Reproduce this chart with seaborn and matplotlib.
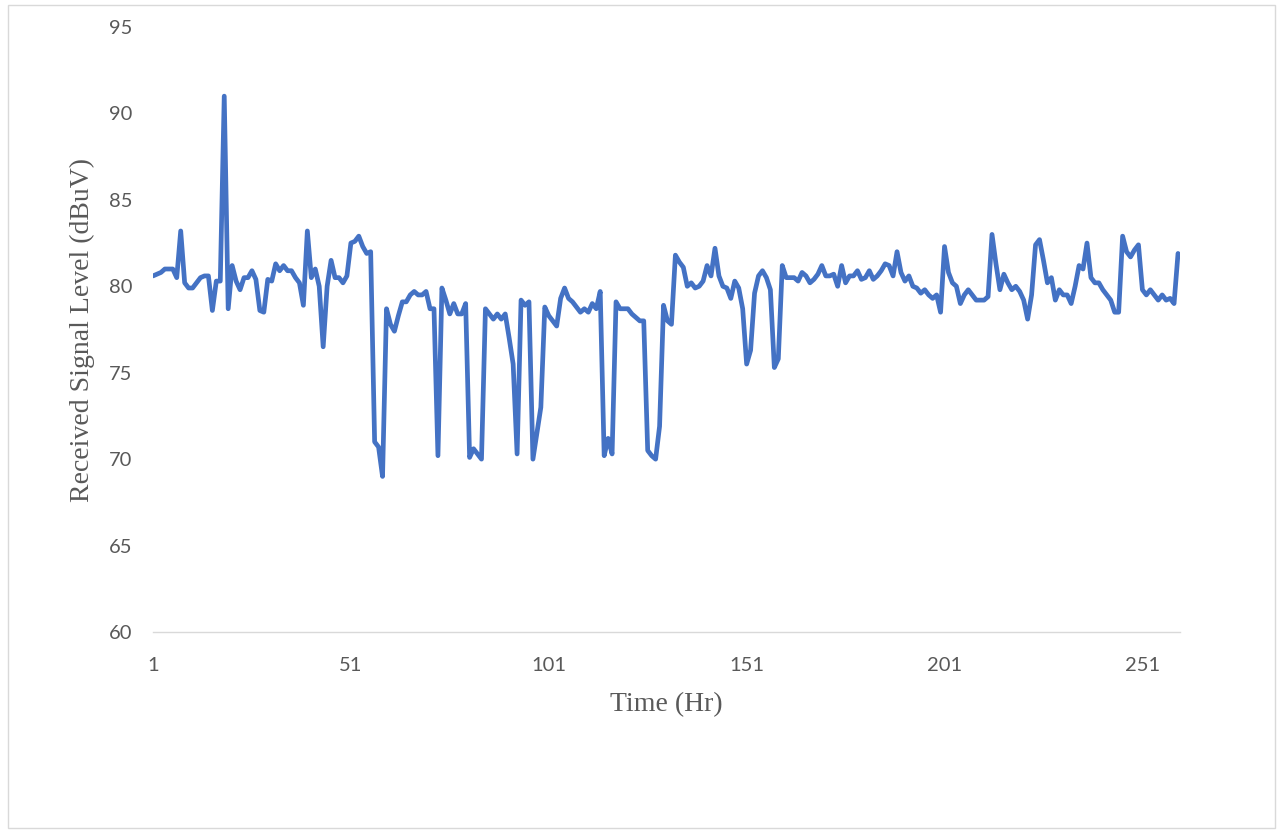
import matplotlib
matplotlib.use("Agg")
import matplotlib.pyplot as plt
import seaborn as sns
import pandas as pd
from matplotlib.patches import Rectangle

signal_dbuv = [
    80.6, 80.7, 80.8, 81.0, 81.0, 81.0, 80.5, 83.2, 80.2, 79.9,
    79.9, 80.2, 80.5, 80.6, 80.6, 78.6, 80.3, 80.3, 91.0, 78.7,
    81.2, 80.3, 79.8, 80.5, 80.5, 80.9, 80.4, 78.6, 78.5, 80.4,
    80.3, 81.3, 80.9, 81.2, 80.9, 80.9, 80.5, 80.2, 78.9, 83.2,
    80.5, 81.0, 80.0, 76.5, 80.0, 81.5, 80.5, 80.5, 80.2, 80.6,
    82.5, 82.6, 82.9, 82.3, 81.9, 82.0, 71.0, 70.7, 69.0, 78.7,
    77.8, 77.4, 78.3, 79.1, 79.1, 79.5, 79.7, 79.5, 79.5, 79.7,
    78.7, 78.7, 70.2, 79.9, 79.2, 78.4, 79.0, 78.4, 78.4, 79.0,
    70.1, 70.6, 70.3, 70.0, 78.7, 78.4, 78.1, 78.4, 78.1, 78.4,
    77.0, 75.5, 70.3, 79.2, 78.9, 79.1, 70.0, 71.5, 73.0, 78.8,
    78.3, 78.0, 77.7, 79.3, 79.9, 79.3, 79.1, 78.8, 78.5, 78.7,
    78.5, 79.0, 78.7, 79.7, 70.2, 71.2, 70.3, 79.1, 78.7, 78.7,
    78.7, 78.4, 78.2, 78.0, 78.0, 70.5, 70.2, 70.0, 71.9, 78.9,
    78.0, 77.8, 81.8, 81.4, 81.1, 80.0, 80.2, 79.9, 80.0, 80.3,
    81.2, 80.6, 82.2, 80.6, 80.0, 79.9, 79.3, 80.3, 79.9, 78.7,
    75.5, 76.3, 79.6, 80.6, 80.9, 80.5, 79.8, 75.3, 75.8, 81.2,
    80.5, 80.5, 80.5, 80.3, 80.8, 80.6, 80.2, 80.4, 80.7, 81.2,
    80.6, 80.6, 80.7, 80.0, 81.2, 80.2, 80.6, 80.6, 80.9, 80.4,
    80.5, 80.9, 80.4, 80.6, 80.9, 81.3, 81.2, 80.6, 82.0, 80.8,
    80.3, 80.6, 80.0, 79.9, 79.6, 79.8, 79.5, 79.3, 79.5, 78.5,
    82.3, 80.8, 80.2, 80.0, 79.0, 79.5, 79.8, 79.5, 79.2, 79.2,
    79.2, 79.4, 83.0, 81.3, 79.8, 80.7, 80.2, 79.8, 80.0, 79.7,
    79.2, 78.1, 79.5, 82.4, 82.7, 81.5, 80.2, 80.5, 79.2, 79.8,
    79.5, 79.5, 79.0, 80.0, 81.2, 81.0, 82.5, 80.5, 80.2, 80.2,
    79.8, 79.5, 79.2, 78.5, 78.5, 82.9, 82.0, 81.7, 82.1, 82.4,
    79.8, 79.5, 79.8, 79.5, 79.2, 79.5, 79.2, 79.3, 79.0, 81.9,
]
hours = list(range(1, len(signal_dbuv) + 1))
x_ticks = [1, 51, 101, 151, 201, 251]
y_ticks = [60, 65, 70, 75, 80, 85, 90, 95]

df = pd.DataFrame({"Time (Hr)": hours, "Signal": signal_dbuv})

sns.set_theme(style="white")
plt.rcParams["font.family"] = ["Lato", "DejaVu Sans"]

fig = plt.figure(figsize=(12.8, 8.3), dpi=100)
ax = fig.add_axes([153 / 1280, 1 - 632 / 830, (1180 - 153) / 1280, (632 - 27) / 830])

sns.lineplot(data=df, x="Time (Hr)", y="Signal", ax=ax, color="#4472C4", linewidth=3.4)

ax.set_xlim(1, 260.5)
ax.set_ylim(60, 95)
ax.set_xticks(x_ticks)
ax.set_yticks(y_ticks)
ax.tick_params(axis="both", length=0, labelsize=14.5, colors="#595959")
ax.tick_params(axis="x", pad=18)
ax.tick_params(axis="y", pad=15)

for s in ["top", "right", "left"]:
    ax.spines[s].set_visible(False)
ax.spines["bottom"].set_color("#D9D9D9")
ax.spines["bottom"].set_linewidth(1.0)

serif = ["Liberation Serif", "DejaVu Serif"]
ax.set_xlabel("Time (Hr)", fontsize=20, color="#595959", family=serif)
ax.set_ylabel("Received Signal Level (dBuV)", fontsize=20, color="#595959", family=serif)
ax.xaxis.set_label_coords(0.5, (632 - 705) / 605)
ax.xaxis.label.set_va("center")
ax.yaxis.set_label_coords((82 - 153) / 1027, 0.5)
ax.yaxis.label.set_va("center")

fig.patches.append(Rectangle((8 / 1280, 0.002), (1275 - 8) / 1280, 1 - 5 / 830 - 0.002,
                             transform=fig.transFigure, fill=False,
                             edgecolor="#D9D9D9", linewidth=1.0))

fig.savefig("out.png", dpi=100)
